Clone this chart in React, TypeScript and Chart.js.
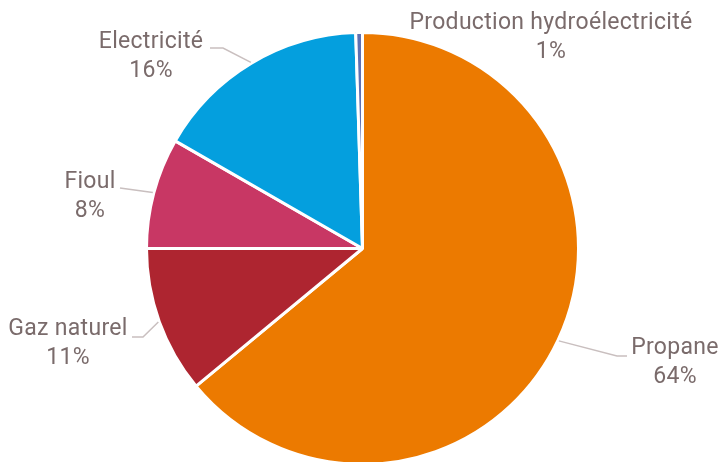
import React, { useEffect, useRef } from "react";
import { Chart, registerables } from "chart.js";

Chart.register(...registerables);

const categories = ["Propane", "Gaz naturel", "Fioul", "Electricité", "Production hydroélectricité"];
const values = [64.0, 11.0, 8.3, 16.2, 0.5];
const percentLabels = ["64%", "11%", "8%", "16%", "1%"];
const colors = ["#EC7A00", "#AE2530", "#C83764", "#049FDE", "#5E70B2"];

// label layout: text centre and leader-line bend points (pixels)
const labelLayout = [
  { x: 675, y: 348, leader: [[617, 356], [627, 356]] },
  { x: 68, y: 329, leader: [[143, 337], [132, 337]] },
  { x: 90, y: 182, leader: [[120, 188]] },
  { x: 151, y: 42, leader: [[223, 48], [210, 48]] },
  { x: 551, y: 23, leader: [] as number[][] },
];

const TEXT_COLOR = "#7a6b6b";
const LINE_COLOR = "#c9bfbf";
const FONT = "23px Roboto";
const LINE_GAP = 29;

const labelPlugin = {
  id: "outerLabels",
  afterDraw(chart: any) {
    const ctx = chart.ctx;
    const meta = chart.getDatasetMeta(0);
    ctx.save();
    meta.data.forEach((arc: any, i: number) => {
      const p = arc.getProps(["x", "y", "startAngle", "endAngle", "outerRadius"], true);
      const mid = (p.startAngle + p.endAngle) / 2;
      const lay = labelLayout[i];
      if (lay.leader.length) {
        const r = p.outerRadius + 1;
        ctx.beginPath();
        ctx.moveTo(p.x + Math.cos(mid) * r, p.y + Math.sin(mid) * r);
        lay.leader.forEach((pt) => ctx.lineTo(pt[0], pt[1]));
        ctx.strokeStyle = LINE_COLOR;
        ctx.lineWidth = 1.5;
        ctx.stroke();
      }
      ctx.fillStyle = TEXT_COLOR;
      ctx.font = FONT;
      (ctx as any).letterSpacing = "0.3px";
      ctx.textAlign = "center";
      ctx.textBaseline = "middle";
      ctx.fillText(categories[i], lay.x, lay.y);
      ctx.fillText(percentLabels[i], lay.x, lay.y + LINE_GAP);
    });
    ctx.restore();
  },
};

export default function App() {
  const ref = useRef<HTMLCanvasElement>(null);
  useEffect(() => {
    if (!ref.current) return;
    const chart = new Chart(ref.current, {
      type: "pie",
      data: {
        labels: categories,
        datasets: [
          {
            data: values,
            backgroundColor: colors,
            borderColor: "#ffffff",
            borderWidth: 3,
            radius: 216,
          },
        ],
      },
      options: {
        responsive: false,
        animation: false,
        devicePixelRatio: 1,
        layout: { padding: { top: 33, bottom: 16, left: 147, right: 142 } },
        plugins: {
          legend: { display: false },
          tooltip: { enabled: false },
        },
      },
      plugins: [labelPlugin],
    });
    return () => chart.destroy();
  }, []);
  return (
    <div
      style={{
        position: "absolute",
        left: 0,
        top: 0,
        width: 720,
        height: 462,
        overflow: "hidden",
        background: "#ffffff",
      }}
    >
      <canvas ref={ref} width={720} height={480} style={{ width: 720, height: 480 }} />
    </div>
  );
}
